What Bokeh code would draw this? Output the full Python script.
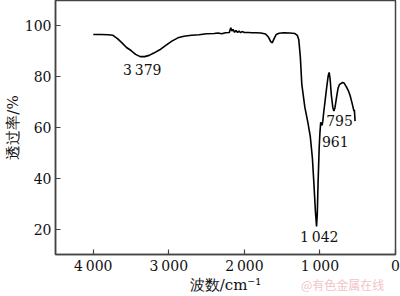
from bokeh.plotting import figure
from bokeh.models import Range1d, Label, FixedTicker, LinearAxis
from bokeh.embed import file_html
from bokeh.resources import INLINE

# Wavenumber (cm^-1) and transmittance (%)
wavenumber = [4000, 3900, 3800, 3740, 3680, 3620, 3560, 3500, 3440, 3379, 3320, 3260,
              3200, 3120, 3040, 2960, 2880, 2800, 2700, 2600, 2500, 2400, 2350, 2300,
              2250, 2200, 2180, 2165, 2150, 2130, 2110, 2090, 2070, 2050, 2030, 2000,
              1950, 1900, 1850, 1780, 1720, 1680, 1650, 1630, 1610, 1580, 1540, 1480,
              1400, 1330, 1300, 1280, 1260, 1240, 1200, 1160, 1128, 1100, 1080, 1060,
              1045, 1035, 1025, 1010, 1000, 990, 980, 972, 962, 950, 930, 910, 890,
              878, 865, 850, 830, 815, 800, 780, 760, 740, 700, 680, 650, 620, 600,
              570, 550, 545, 540, 535]
transmittance = [96.6, 96.6, 96.5, 96.3, 95.0, 93.3, 91.5, 90.3, 88.8, 87.9, 87.9, 88.4,
                 89.3, 90.6, 92.3, 94.0, 95.3, 95.9, 96.3, 96.5, 96.9, 97.0, 97.2, 96.9,
                 97.3, 97.4, 99.3, 98.0, 98.6, 97.5, 98.2, 97.4, 98.0, 97.3, 97.8, 97.4,
                 97.4, 97.3, 97.3, 97.2, 96.8, 95.5, 93.7, 93.4, 94.8, 96.6, 97.1, 97.3,
                 97.2, 97.0, 96.3, 94.5, 88.0, 77.0, 68.0, 62.0, 56.5, 48.0, 38.0, 27.0,
                 21.0, 26.0, 38.0, 52.0, 58.0, 62.0, 61.5, 60.8, 62.5, 66.0, 71.0, 76.0,
                 80.5, 81.7, 79.0, 73.0, 68.0, 66.5, 68.0, 72.0, 75.5, 77.0, 77.7, 77.5,
                 76.0, 74.2, 72.5, 69.0, 66.5, 67.0, 65.0, 62.5]

x_ticks = [4000, 3000, 2000, 1000, 0]
x_tick_labels = ["4\u2009000", "3\u2009000", "2\u2009000", "1\u2009000", "0"]
y_ticks = [20, 40, 60, 80, 100]

peak_labels = ["3\u2009379", "1\u2009042", "961", "795"]
peak_x = [3351, 1009, 974, 917]
peak_y = [82.5, 16.7, 54.3, 62.9]
peak_align = ["center", "center", "left", "left"]

watermark_text = "@有色金属在线"
watermark_x = [700]

serif = "DejaVu Serif"
frame_color = "#444444"

p = figure(width=400, height=296, output_backend="svg", toolbar_location=None,
           x_range=Range1d(4500, 0), y_range=Range1d(10, 110),
           min_border_left=54, min_border_right=5, min_border_top=0, min_border_bottom=41)
p.background_fill_color = "white"
p.border_fill_color = "white"
p.grid.visible = False
p.outline_line_color = frame_color
p.outline_line_width = 1.5

p.line(wavenumber, transmittance, line_color="black", line_width=1.6)

for ax in (p.xaxis, p.yaxis):
    ax.axis_line_color = frame_color
    ax.axis_line_width = 1.5
    ax.major_tick_line_color = frame_color
    ax.major_tick_line_width = 1.2
    ax.major_tick_in = 5
    ax.major_tick_out = 0
    ax.minor_tick_line_color = None
    ax.major_label_text_font = serif
    ax.major_label_text_font_size = "14px"
    ax.major_label_text_color = "#111111"
    ax.axis_label_text_font = serif
    ax.axis_label_text_font_size = "15px"
    ax.axis_label_text_font_style = "normal"
    ax.axis_label_text_color = "#111111"

p.xaxis.ticker = FixedTicker(ticks=x_ticks)
p.xaxis.major_label_overrides = {t: l for t, l in zip(x_ticks, x_tick_labels)}
p.xaxis.major_label_standoff = 3
p.xaxis.axis_label = "波数/cm\u207b\u00b9"
p.xaxis.axis_label_standoff = -1

p.yaxis.ticker = FixedTicker(ticks=y_ticks)
p.yaxis.major_label_standoff = 4
p.yaxis.axis_label = "透过率/%"
p.yaxis.axis_label_standoff = 0

for txt, xx, yy, al in zip(peak_labels, peak_x, peak_y, peak_align):
    p.add_layout(Label(x=xx, y=yy, text=txt, text_align=al, text_baseline="middle",
                       text_font=serif, text_font_size="14px", text_color="#111111"))

# watermark drawn as the single tick label of a bare extra axis below
wm_axis = LinearAxis(ticker=FixedTicker(ticks=watermark_x),
                     major_label_overrides={watermark_x[0]: watermark_text},
                     axis_line_color=None, major_tick_line_color=None,
                     minor_tick_line_color=None, major_tick_in=0, major_tick_out=0,
                     major_label_standoff=-21,
                     major_label_text_font="Noto Sans CJK SC",
                     major_label_text_font_size="12px",
                     major_label_text_color="#f2c4c8")
p.add_layout(wm_axis, "below")

open("out.html", "w").write(file_html(p, INLINE))
